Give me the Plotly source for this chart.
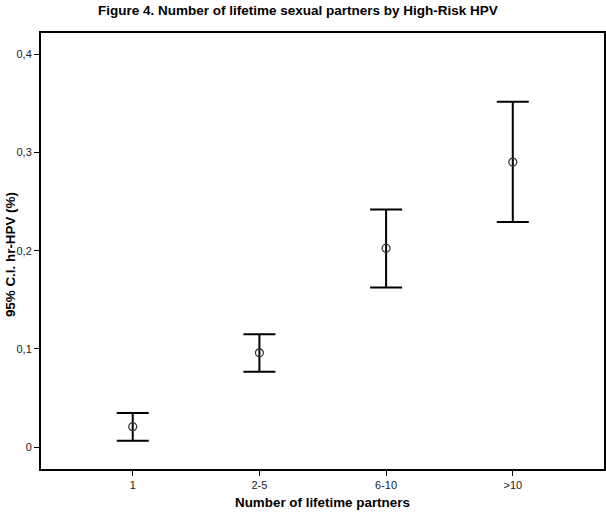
import plotly.graph_objects as go

categories = ['1', '2-5', '6-10', '>10']
means = [0.0207, 0.0960, 0.2025, 0.2903]
upper = [0.0347, 0.1150, 0.2419, 0.3518]
lower = [0.0065, 0.0767, 0.1625, 0.2293]

err_plus = [u - m for u, m in zip(upper, means)]
err_minus = [m - l for m, l in zip(means, lower)]

font_name = 'Liberation Sans, Arial'

fig = go.Figure(go.Scatter(
    x=categories,
    y=means,
    mode='markers',
    marker=dict(symbol='circle-open', size=8, color='#333333', line=dict(width=1.2)),
    error_y=dict(type='data', symmetric=False, array=err_plus, arrayminus=err_minus,
                 color='black', thickness=2, width=16),
    showlegend=False,
    hoverinfo='skip',
))

axis_common = dict(
    showline=True, linecolor='black', linewidth=2, mirror=True,
    showgrid=False, zeroline=False, automargin=False,
    ticks='outside', ticklen=5, tickcolor='black', tickwidth=1,
    tickfont=dict(family=font_name, size=11, color='#222222'),
)

fig.update_layout(
    width=606, height=512,
    paper_bgcolor='white', plot_bgcolor='white',
    separators=',.',
    margin=dict(l=41, r=1.5, t=32.7, b=42.7),
    xaxis=dict(type='category', range=[-0.724, 3.72], **axis_common),
    yaxis=dict(range=[-0.0224, 0.4218], tickvals=[0, 0.1, 0.2, 0.3, 0.4], **axis_common),
    annotations=[
        dict(text='<b>Figure 4. Number of lifetime sexual partners by High-Risk HPV</b>',
             xref='paper', yref='paper', x=0.457, y=1.052, showarrow=False,
             xanchor='center', yanchor='middle',
             font=dict(family=font_name, size=13.5, color='black')),
        dict(text='<b>Number of lifetime partners</b>',
             xref='paper', yref='paper', x=0.5, y=-0.077, showarrow=False,
             xanchor='center', yanchor='middle',
             font=dict(family=font_name, size=13.4, color='black')),
        dict(text='<b>95% C.I. hr-HPV (%)</b>', textangle=-90,
             xref='paper', yref='paper', x=-0.053, y=0.491, showarrow=False,
             xanchor='center', yanchor='middle',
             font=dict(family=font_name, size=13.4, color='black')),
    ],
)

# drop the default 8px body margin so the figure fills the window
fig.write_html('out.html', config={'displayModeBar': False},
               post_script="document.body.style.margin='0';")
